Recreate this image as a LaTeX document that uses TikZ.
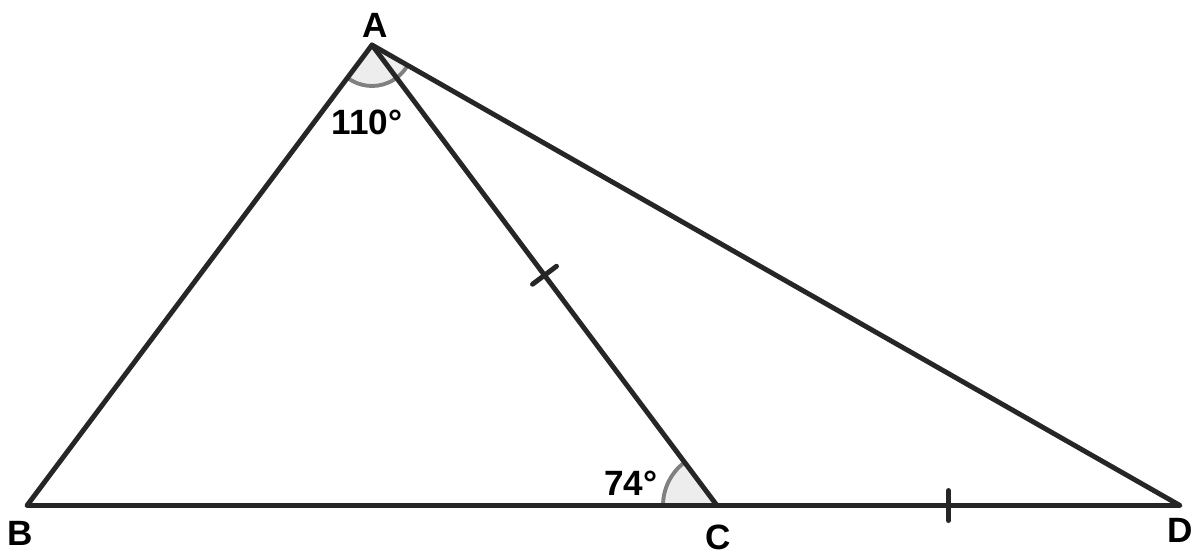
\documentclass[tikz,border=0pt]{standalone}
\usepackage{fontspec}
\setmainfont{Liberation Sans}
\usetikzlibrary{%
  calc,angles,quotes}
\tikzset {lbl/.style={font=\bfseries\fontsize{20}{24}\selectfont},
  side/.style={line width=2.8pt,color=black!85,line cap=round,line join=round},
  anglemark/.style={draw=black!50,fill=black!7,line width=2.2pt}}

\begin{document}
\begin{tikzpicture}
\useasboundingbox (0,0) rectangle (24,11.16);
\coordinate (A) at (7.44,10.26);
\coordinate (B) at (0.54,1.05);
\coordinate (C) at (14.34,1.05);
\coordinate (D) at (23.6,1.05);
\path pic[anglemark,angle radius=0.82cm] {angle=B--A--D};
\path pic[anglemark,angle radius=1.08cm] {angle=A--C--B};
\draw[side] (B) -- (D) -- (A) -- cycle;
\draw[side] (A) -- (C);
\draw[side] ($(A)!0.5!(C)!0.3cm!90:(C)$) -- ($(A)!0.5!(C)!0.3cm!-90:(C)$);
\draw[side] ($(C)!0.5!(D)!0.3cm!90:(D)$) -- ($(C)!0.5!(D)!0.3cm!-90:(D)$);
\node[lbl] (lA) at (7.5,10.66) {A};
\node[lbl] (lB) at (0.4,0.5) {B};
\node[lbl] (lC) at (14.36,0.42) {C};
\node[lbl] (lD) at (23.6,0.56) {D};
\node[lbl] (aA) at (7.34,8.72) {110°};
\node[lbl] (aC) at (12.62,1.5) {74°};
\end{tikzpicture}
\end{document}
